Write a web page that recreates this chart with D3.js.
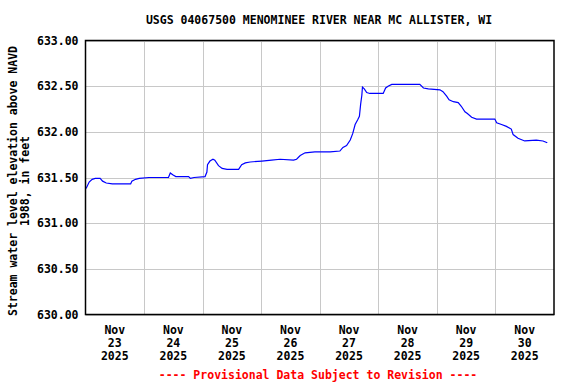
<!DOCTYPE html>
<html>
<head>
<meta charset="utf-8">
<script src="https://cdn.jsdelivr.net/npm/d3@7"></script>
<style>
  html, body { margin: 0; padding: 0; background: #fff; }
  svg { display: block; }
  text { font-family: "DejaVu Sans Mono", "Liberation Mono", monospace; font-weight: bold; font-size: 11.5px; }
</style>
</head>
<body>
<svg id="chart" width="576" height="384"></svg>
<script>
// ---- data ----
const title = "USGS 04067500 MENOMINEE RIVER NEAR MC ALLISTER, WI";
const yLabelLines = ["Stream water level elevation above NAVD", "1988, in feet"];
const footer = "---- Provisional Data Subject to Revision ----";
const startDate = "2025-11-23T00:00:00";
const dayTicks = ["2025-11-23","2025-11-24","2025-11-25","2025-11-26","2025-11-27","2025-11-28","2025-11-29","2025-11-30"];
const yTicks = [630.0, 630.5, 631.0, 631.5, 632.0, 632.5, 633.0];
// hours since Nov 23 00:00
const hours = [0.25,1.5,2.75,4,6,7,8.5,11,18.5,19,20.5,22,26,34,34.75,35.75,37,42.25,43,44.5,49,49.75,50,51,52.25,53,54.5,56,58,62.75,64,65.5,67.5,72.25,76.25,79.75,85.25,86.5,88,90,94,100.25,104.25,105.5,107,108.5,109.5,110.5,111.5,112.25,112.75,113.25,113.5,114.25,115.25,116.5,122,123,124,125.5,137,138.5,140.5,145.25,146.5,148,149,150.75,152.75,154,155.5,156.5,158.25,160.25,167.75,168.5,170.5,172.5,174.5,175.25,177.25,180,184.75,187.5,189.25];
const values = [631.38,631.45,631.48,631.49,631.49,631.46,631.44,631.43,631.43,631.46,631.48,631.49,631.50,631.50,631.55,631.53,631.51,631.51,631.49,631.50,631.51,631.56,631.64,631.68,631.70,631.69,631.63,631.60,631.59,631.59,631.64,631.66,631.67,631.68,631.69,631.70,631.69,631.70,631.74,631.77,631.78,631.78,631.79,631.83,631.85,631.91,631.98,632.08,632.13,632.17,632.30,632.40,632.49,632.47,632.43,632.42,632.42,632.48,632.50,632.52,632.52,632.48,632.47,632.46,632.44,632.39,632.35,632.33,632.32,632.28,632.22,632.20,632.16,632.14,632.14,632.10,632.08,632.06,632.03,631.97,631.93,631.90,631.91,631.90,631.88];

// ---- layout ----
const svg = d3.select("#chart");
const margin = {left: 85.5, right: 554, top: 40.5, bottom: 314.5};
const t0 = new Date(startDate);
const t1 = d3.timeDay.offset(t0, 8);

const x = d3.scaleTime().domain([t0, t1]).range([margin.left, margin.right]);
const y = d3.scaleLinear().domain([630, 633]).range([margin.bottom, margin.top]);

const data = hours.map((h, i) => ({t: new Date(t0.getTime() + h * 3600e3), v: values[i]}));

// grid
const gridX = d3.timeDay.range(d3.timeDay.offset(t0, 1), t1);
svg.append("g").selectAll("line").data(gridX).join("line")
  .attr("x1", d => Math.round(x(d)) + 0.5).attr("x2", d => Math.round(x(d)) + 0.5)
  .attr("y1", margin.top).attr("y2", margin.bottom)
  .attr("stroke", "#c8c8c8").attr("stroke-width", 1);
svg.append("g").selectAll("line").data(yTicks).join("line")
  .attr("x1", margin.left).attr("x2", margin.right)
  .attr("y1", d => Math.round(y(d)) + 0.5).attr("y2", d => Math.round(y(d)) + 0.5)
  .attr("stroke", "#c8c8c8").attr("stroke-width", 1);

// line
const line = d3.line().x(d => x(d.t)).y(d => y(d.v));
svg.append("path").datum(data)
  .attr("d", line).attr("fill", "none")
  .attr("stroke", "#0000ff").attr("stroke-width", 1.2);

// frame
svg.append("rect")
  .attr("x", margin.left).attr("y", margin.top)
  .attr("width", margin.right - margin.left).attr("height", margin.bottom - margin.top)
  .attr("fill", "none").attr("stroke", "#000").attr("stroke-width", 1.5);

// y axis labels
const yAxis = d3.axisLeft(y).tickValues(yTicks).tickFormat(d3.format(".2f")).tickSize(0).tickPadding(7);
const gy = svg.append("g").attr("transform", `translate(${margin.left},0)`).call(yAxis);
gy.select(".domain").remove();
gy.selectAll("text").attr("fill", "#000").style("font-family", null).style("font-size", null).attr("font-family", null).attr("font-size", null);

// x axis labels (centered at noon)
const fmtMon = d3.timeFormat("%b"), fmtDay = d3.timeFormat("%d"), fmtYr = d3.timeFormat("%Y");
const days = dayTicks.map(s => new Date(s + "T12:00:00"));
const gx = svg.append("g");
days.forEach(d => {
  const tx = gx.append("text").attr("text-anchor", "middle").attr("x", x(d));
  [fmtMon(d), fmtDay(d), fmtYr(d)].forEach((s, i) => {
    tx.append("tspan").attr("x", x(d)).attr("y", 334 + i * 13).text(s);
  });
});

// title
svg.append("text").attr("x", 319).attr("y", 24).attr("text-anchor", "middle").text(title);

// y label
const yl = svg.append("text").attr("transform", "translate(0,181) rotate(-90)").attr("text-anchor", "middle");
yLabelLines.forEach((s, i) => yl.append("tspan").attr("x", 0).attr("y", 17 + i * 12).text(s));

// footer
svg.append("text").attr("x", 318).attr("y", 379).attr("text-anchor", "middle").attr("fill", "#ff0000").text(footer);
</script>
</body>
</html>
